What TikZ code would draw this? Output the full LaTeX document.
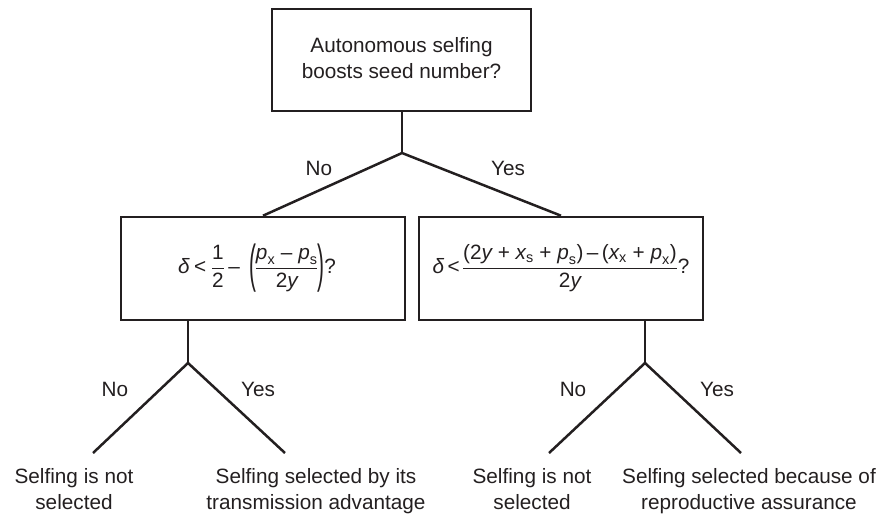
\documentclass[tikz,border=0pt]{standalone}
\usepackage{amsmath}
\usepackage{graphicx}
\usepackage{fontspec}
\setmainfont{Liberation Sans}
\definecolor{ink}{HTML}{231F20}
\newcommand\vi[1]{\text{\itshape #1}}
\newcommand\tx[1]{\text{#1}}
\newcommand\bigpar[1]{\vcenter{\hbox{\scalebox{1}[2.5]{#1}}}}
\newcommand\tstr{\rule{0pt}{16pt}}
\newcommand\bstr{\rule[-5pt]{0pt}{5pt}}
\newcommand\fsz{\fontsize{20.74}{26}\selectfont}
\begin{document}
\begin{tikzpicture}[x=1pt,y=-1pt,
  box/.style={draw=ink, line width=2.6pt, inner sep=0pt, text=ink, font=\fsz},
  lab/.style={anchor=base, text=ink, font=\fsz, inner sep=0pt},
  leaf/.style={align=center, text=ink, font=\fsz, inner sep=0pt},
  edge/.style={draw=ink, line width=2.5pt, line join=miter}]
\useasboundingbox (0,0) rectangle (882,515);

\node[box, minimum width=259pt, minimum height=102pt, align=center] (top) at (401.5,60)
  {\tstr Autonomous selfing\\ boosts seed number?\bstr};
\node[box, minimum width=284pt, minimum height=103pt] (lbox) at (263,268.5)
  {$\displaystyle \vi{δ}\mkern4mu\tx{<}\mkern4mu\frac{\tx{1}}{\tx{2}}\mkern3mu\tx{–}\mkern8mu\bigpar{(}\mkern-1mu\frac{\vi{p}_{\tx{x}}\;\tx{–}\;\vi{p}_{\tx{s}}}{\tx{2}\vi{y}}\mkern-1mu\bigpar{)}\tx{?}\kern12pt$};
\node[box, minimum width=284pt, minimum height=103pt] (rbox) at (561,268.5)
  {$\displaystyle \vi{δ}\mkern3mu\tx{<}\mkern2mu\frac{\tx{(2}\vi{y}\;\tx{+}\;\vi{x}_{\tx{s}}\;\tx{+}\;\vi{p}_{\tx{s}}\tx{)}\,\tx{–}\,\tx{(}\vi{x}_{\tx{x}}\;\tx{+}\;\vi{p}_{\tx{x}}\tx{)}}{\tx{2}\vi{y}}\tx{?}$};

\coordinate (j1) at (402,153);
\coordinate (j2) at (188,363);
\coordinate (j3) at (645,363);
\coordinate (l1) at (93,453);
\coordinate (l2) at (285,453);
\coordinate (l3) at (549,453);
\coordinate (l4) at (741,453);

\draw[edge] (top.south -| j1) -- (j1);
\draw[edge] (lbox.north) -- (j1) -- (rbox.north);
\draw[edge] (lbox.south -| j2) -- (j2);
\draw[edge] (l1) -- (j2) -- (l2);
\draw[edge] (rbox.south -| j3) -- (j3);
\draw[edge] (l3) -- (j3) -- (l4);

\node[lab] (no1) at (319,175) {No};
\node[lab] (yes1) at (508,175) {Yes};
\node[lab] (no2) at (115,396) {No};
\node[lab] (yes2) at (258,396) {Yes};
\node[lab] (no3) at (573,396) {No};
\node[lab] (yes3) at (717,396) {Yes};

\node[leaf] (t1) at (74,490.5) {\tstr Selfing is not\\selected\bstr};
\node[leaf] (t2) at (316,490.5) {\tstr Selfing selected by its\\transmission advantage\bstr};
\node[leaf] (t3) at (532,490.5) {\tstr Selfing is not\\selected\bstr};
\node[leaf] (t4) at (749,490.5) {\tstr Selfing selected because of\\reproductive assurance\bstr};
\end{tikzpicture}
\end{document}
